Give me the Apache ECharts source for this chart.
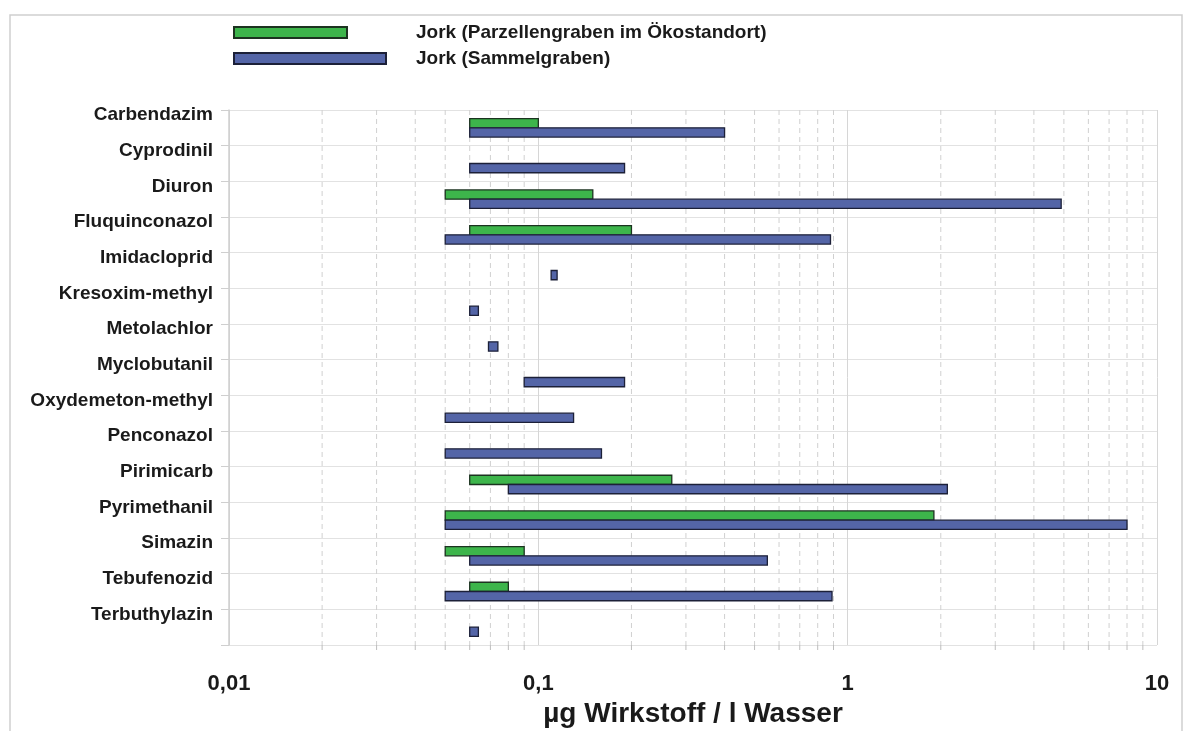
<!DOCTYPE html>
<html>
<head>
<meta charset="utf-8">
<script src="https://cdn.jsdelivr.net/npm/echarts@6/dist/echarts.min.js"></script>
<style>
html, body { margin: 0; padding: 0; background: #fff; }
#chart { width: 1189px; height: 731px; }
</style>
</head>
<body>
<div id="chart"></div>
<script>
// Wirkstoffe (von oben nach unten)
var categories = ['Carbendazim', 'Cyprodinil', 'Diuron', 'Fluquinconazol', 'Imidacloprid',
    'Kresoxim-methyl', 'Metolachlor', 'Myclobutanil', 'Oxydemeton-methyl', 'Penconazol',
    'Pirimicarb', 'Pyrimethanil', 'Simazin', 'Tebufenozid', 'Terbuthylazin'];

// Jork (Parzellengraben im Ökostandort): von / bis (µg/l)
var greenFrom = [0.06, null, 0.05, 0.06, null, null, null, null, null, null, 0.06, 0.05, 0.05, 0.06, null];
var greenTo   = [0.10, null, 0.15, 0.20, null, null, null, null, null, null, 0.27, 1.9, 0.09, 0.08, null];

// Jork (Sammelgraben): von / bis (µg/l)
var blueFrom = [0.06, 0.06, 0.06, 0.05, 0.11, 0.06, 0.069, 0.09, 0.05, 0.05, 0.08, 0.05, 0.06, 0.05, 0.06];
var blueTo   = [0.40, 0.19, 4.9, 0.88, 0.115, 0.064, 0.074, 0.19, 0.13, 0.16, 2.1, 8.0, 0.55, 0.89, 0.064];

// Achse
var majorTicks = [0.01, 0.1, 1, 10];
var minorTicks = [0.02, 0.03, 0.04, 0.05, 0.06, 0.07, 0.08, 0.09,
    0.2, 0.3, 0.4, 0.5, 0.6, 0.7, 0.8, 0.9,
    2, 3, 4, 5, 6, 7, 8, 9];

var nameGreen = 'Jork (Parzellengraben im Ökostandort)';
var nameBlue = 'Jork (Sammelgraben)';
var font = 'Liberation Sans, Arial, sans-serif';

function toItems(from, to) {
    var out = [];
    for (var i = 0; i < categories.length; i++) {
        if (from[i] != null) out.push([i, from[i], to[i]]);
    }
    return out;
}

function barRenderer(slot) {
    return function (params, api) {
        var cat = api.value(0);
        var a = api.coord([api.value(1), cat]);
        var b = api.coord([api.value(2), cat]);
        var band = Math.abs(api.coord([1, 1])[1] - api.coord([1, 0])[1]);
        var h = band * 0.26;
        var y = a[1] - h + slot * h;
        return {
            type: 'rect',
            shape: { x: a[0], y: y, width: b[0] - a[0], height: h },
            style: api.style()
        };
    };
}

var myChart = echarts.init(document.getElementById('chart'));

var option = {
    backgroundColor: '#fff',
    animation: false,
    textStyle: { fontFamily: font },
    graphic: [{
        type: 'rect',
        shape: { x: 10, y: 15, width: 1172, height: 740 },
        style: { fill: 'none', stroke: '#cfcfcf', lineWidth: 1.5 },
        silent: true
    }],
    legend: [{
        data: [{ name: nameGreen }],
        left: 228, top: 18,
        orient: 'vertical',
        icon: 'rect',
        itemWidth: 113, itemHeight: 11,
        textStyle: { fontFamily: font, fontWeight: 'bold', fontSize: 19, color: '#1a1a1a', padding: [3, 0, 0, 64] }
    }, {
        data: [{ name: nameBlue }],
        left: 228, top: 44,
        orient: 'vertical',
        icon: 'rect',
        itemWidth: 152, itemHeight: 11,
        textStyle: { fontFamily: font, fontWeight: 'bold', fontSize: 19, color: '#1a1a1a', padding: [3, 0, 0, 25] }
    }],
    grid: { left: 229, right: 32, top: 110, bottom: 86, containLabel: false, outerBoundsMode: 'none' },
    xAxis: {
        type: 'log',
        logBase: 10,
        min: 0.01,
        max: 10,
        name: 'µg Wirkstoff / l Wasser',
        nameLocation: 'middle',
        nameGap: 55,
        nameTextStyle: { fontFamily: font, fontWeight: 'bold', fontSize: 28, color: '#1a1a1a' },
        axisLine: { lineStyle: { color: '#bdbdbd', width: 1.5 } },
        axisTick: { length: 7, lineStyle: { color: '#bdbdbd' } },
        axisLabel: {
            margin: 28,
            fontFamily: font, fontWeight: 'bold', fontSize: 22, color: '#1a1a1a',
            formatter: function (v) { return String(v).replace('.', ','); }
        },
        splitLine: { show: true, lineStyle: { color: '#d6d6d6', width: 1 } }
    },
    yAxis: [{
        type: 'category',
        data: categories,
        inverse: true,
        show: false
    }, {
        type: 'category',
        data: categories.concat(['']),
        inverse: true,
        boundaryGap: false,
        position: 'left',
        axisLine: { lineStyle: { color: '#cfcfcf', width: 1.5 } },
        axisTick: { length: 8, lineStyle: { color: '#cfcfcf' } },
        axisLabel: {
            margin: 16, verticalAlign: 'top', lineHeight: 10,
            fontFamily: font, fontWeight: 'bold', fontSize: 19, color: '#1a1a1a'
        },
        splitLine: { show: true, lineStyle: { color: '#e2e2e2', width: 1 } }
    }],
    series: [{
        // Nebengitter (gestrichelt) und kleine Teilstriche der Log-Achse
        type: 'custom',
        name: 'minor',
        silent: true,
        clip: false,
        yAxisIndex: 0,
        data: minorTicks.map(function (v) { return [v]; }),
        encode: { x: 0 },
        renderItem: function (params, api) {
            var top = api.coord([api.value(0), 0]);
            var x = top[0];
            var band = Math.abs(api.coord([1, 1])[1] - api.coord([1, 0])[1]);
            var y0 = top[1] - band / 2;
            var y1 = y0 + band * categories.length;
            return {
                type: 'group',
                children: [{
                    type: 'line',
                    shape: { x1: x, y1: y0, x2: x, y2: y1 },
                    style: { stroke: '#d0d0d0', lineWidth: 1, lineDash: [5, 4] }
                }, {
                    type: 'line',
                    shape: { x1: x, y1: y1, x2: x, y2: y1 + 5 },
                    style: { stroke: '#bdbdbd', lineWidth: 1 }
                }]
            };
        },
        z: 1
    }, {
        type: 'custom',
        name: nameGreen,
        yAxisIndex: 0,
        data: toItems(greenFrom, greenTo),
        encode: { y: 0, x: [1, 2] },
        itemStyle: { color: '#3db54b', borderColor: '#1c3320', borderWidth: 1.3 },
        renderItem: barRenderer(0),
        z: 3
    }, {
        type: 'custom',
        name: nameBlue,
        yAxisIndex: 0,
        data: toItems(blueFrom, blueTo),
        encode: { y: 0, x: [1, 2] },
        itemStyle: { color: '#5465a7', borderColor: '#1c2038', borderWidth: 1.3 },
        renderItem: barRenderer(1),
        z: 3
    }]
};

myChart.setOption(option);
</script>
</body>
</html>
